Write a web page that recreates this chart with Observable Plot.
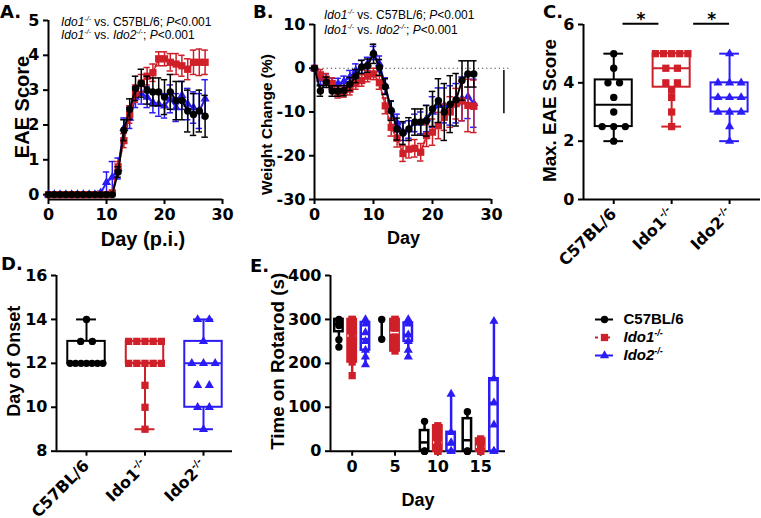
<!DOCTYPE html>
<html><head><meta charset="utf-8">
<script src="https://cdn.jsdelivr.net/npm/d3@7"></script>
<script src="https://cdn.jsdelivr.net/npm/@observablehq/plot@0.6"></script>
<style>
html,body{margin:0;padding:0;background:#fff;}
#fig{position:relative;width:761px;height:518px;overflow:hidden;background:#fff;}
.pl{position:absolute;}
.tag{position:absolute;font-family:"DejaVu Sans",sans-serif;font-weight:bold;font-size:18px;line-height:18px;}
.ann{position:absolute;font-family:"Liberation Sans",Arial,sans-serif;font-size:12px;line-height:13px;white-space:nowrap;}
.ann sup{font-size:7px;vertical-align:5px;line-height:0;}
</style></head>
<body><div id="fig"></div>
<script>
// ---------------- DATA ----------------
const GROUPS = ["C57BL/6", "Ido1-/-", "Ido2-/-"];
const days = [0,1,2,3,4,5,6,7,8,9,10,11,12,13,14,15,16,17,18,19,20,21,22,23,24,25,26,27];

// A. EAE score (mean, SEM)
const eaeB6      = [0,0,0,0,0,0,0,0,0,0,0,0,0.65,1.85,2.45,3.05,3.2,3.0,2.95,2.95,2.8,2.95,2.7,2.7,2.4,2.3,2.4,2.25];
const eaeB6Sem   = [0,0,0,0,0,0,0,0,0,0,0,0,0.15,0.3,0.3,0.35,0.4,0.4,0.4,0.4,0.5,0.5,0.55,0.55,0.6,0.6,0.6,0.6];
const eaeIdo1    = [0,0,0,0,0,0,0,0,0,0,0,0.05,0.8,1.55,2.3,2.9,3.2,3.4,3.5,3.9,3.9,3.8,3.75,3.7,3.6,3.8,3.8,3.8];
const eaeIdo1Sem = [0,0,0,0,0,0,0,0,0,0,0,0.05,0.15,0.2,0.25,0.25,0.25,0.25,0.25,0.2,0.2,0.25,0.3,0.3,0.3,0.35,0.38,0.35];
const eaeIdo2    = [0,0,0,0,0,0,0,0,0,0.05,0.35,0.5,0.75,1.9,2.2,2.8,2.9,2.8,2.65,2.6,2.55,2.75,2.5,2.85,2.6,2.5,2.4,2.75];
const eaeIdo2Sem = [0,0,0,0,0,0,0,0,0,0.05,0.3,0.45,0.3,0.3,0.3,0.3,0.3,0.3,0.3,0.35,0.35,0.4,0.4,0.4,0.45,0.45,0.5,0.55];

// B. Weight change (mean, SEM)
const wB6      = [0,-5.2,-3.2,-5.2,-5.2,-5.1,-3.6,-1.8,0.3,0.6,3.3,0.2,-4.2,-9.7,-13.9,-14.8,-13.9,-12.3,-12.3,-12,-9.3,-7.4,-10,-8.2,-7.2,-2.8,-1.3,-1.3];
const wB6Sem   = [0,1.2,1.2,1.2,1.2,1.2,1.5,1.5,1.5,1.5,2.2,1.8,1.8,2.2,2.5,2.6,2.6,3,3,3.5,4,5,6.5,6.5,6,4.5,3,3];
const wIdo1    = [0,-1.5,-2.5,-3.5,-5.5,-5.3,-4.8,-3.5,-2.8,-1.8,-1.3,-3.3,-8.6,-13.5,-16,-19.5,-18.5,-18.3,-19.2,-15.4,-14.6,-13.1,-11.2,-10,-8.1,-7.5,-8.5,-8.7];
const wIdo1Sem = [0,1.2,1.3,1.3,1.3,1.3,1.3,1.3,1.3,1.3,1.3,1.5,1.8,2,2,1.8,2,2,2,2.5,3,3,3,3.5,3.5,4.5,6,6];
const wIdo2    = [0,-2.5,-2.5,-3.5,-3.5,-3,-2,-0.5,0.3,1,3.5,1,-4,-9.5,-12.5,-14.5,-14,-12.5,-12.5,-11.5,-10,-8.5,-8.5,-8.5,-8,-7,-6.5,-8];
const wIdo2Sem = [0,1.2,1.2,1.2,1.2,1.2,1.5,1.5,1.5,1.5,1.5,1.8,1.8,2,2,2,2,2,2.5,3,3.5,4,4,4.5,4.5,5,5,5.5];

// C. Max EAE score
const cB6   = [5,4.5,4,4,3.5,3,2.5,2.5,2.5,2];
const cIdo1 = [5,5,5,5,5,4.5,4.5,4,4,3.75,3.5,3,2.5];
const cIdo2 = [5,4,4,4,3.5,3.5,3.5,3,3,3,2.5,2];
const cMin = [2,2.5,2], cQ1 = [2.5,3.85,3], cMed = [3.25,4.5,3.5], cQ3 = [4.1,5,4], cMax = [5,5,5];
const sigX1 = [0.16,1.38], sigX2 = [0.78,2.0], sigY = 6.03, sigText = ["*","*"];

// D. Day of onset
const dB6   = [14,13,13,12,12,12,12,12,12,12];
const dIdo1 = [13,13,13,13,13,12,12,12,12,12,11,10,9];
const dIdo2 = [14,14,13,12,12,12,11,11,10,10,9];
const dMin = [12,9,9], dQ1 = [12,12,10], dMed = [12,12,12], dQ3 = [13,13,13], dMax = [14,13,14];

// E. Rotarod
const rotDays = [0,5,10,15];
const rB6Min = [237,255,0,0], rB6Q1 = [272,null,0,0], rB6Med = [290,null,20,25], rB6Q3 = [300,null,47,74], rB6Max = [300,300,68,90];
const rIdo1Min = [172,228,0,0], rIdo1Q1 = [203,228,0,0], rIdo1Med = [263,270,20,10], rIdo1Q3 = [300,300,58,28], rIdo1Max = [300,300,58,28];
const rIdo2Min = [197,215,0,0], rIdo2Q1 = [230,250,0,0], rIdo2Med = [255,265,15,110], rIdo2Q3 = [293,292,43,165], rIdo2Max = [300,300,130,296];
const rB6Pts   = [[300,297,286,254,237],[300,255],[68,0,0,0],[90,0,0,0]];
const rIdo1Pts = [[300,300,290,260,230,203,172],[300,300,280,260,240,228],[58,40,20,0,0],[28,10,0,0]];
const rIdo2Pts = [[300,290,270,250,230,215,197],[300,290,265,250,230,215],[130,43,20,0,0],[296,165,110,60,0,0]];

// ticks
const dayTicks = [0,10,20,30], eaeTicks = [0,1,2,3,4,5], wTicks = [-30,-20,-10,0,10];
const maxTicks = [0,2,4,6], onsetTicks = [8,10,12,14,16], rotTicks = [0,100,200,300,400];

// ---------------- STYLE ----------------
const COLORS = ["#000000", "#cf1f28", "#2b1cf5"];
const SYMBOLS = ["circle", "square", "triangle"];
const RADII = [3.7, 4.1, 3.4];
const STYLE = "font-family:'DejaVu Sans',sans-serif;font-weight:bold;font-size:16px;color:#000;background:transparent;overflow:visible;max-width:none;";
const num = d => String(d);

const fig = document.getElementById("fig");
function place(node, left, top, w) {
  const d = document.createElement("div");
  d.className = "pl"; d.style.left = left + "px"; d.style.top = top + "px"; d.style.width = w + "px";
  d.appendChild(node); fig.appendChild(d); return node;
}
function yTitle(t, dx, dy, fs) {
  return Plot.text([t], {text: d => d, frameAnchor: "left", rotate: -90, dx, dy, textAnchor: "middle", lineAnchor: "middle",
    fontSize: fs, fontFamily: "Liberation Sans, Arial, sans-serif", fontWeight: "bold"});
}
function xTitle(t, dx, dy, fs) {
  return Plot.text([t], {text: d => d, frameAnchor: "bottom", dx, dy, textAnchor: "middle", lineAnchor: "middle",
    fontSize: fs, fontFamily: "Liberation Sans, Arial, sans-serif", fontWeight: "bold"});
}
const rowsOf = (vals, sems) => days.map((d, i) => ({day: d, v: vals[i], lo: vals[i] - sems[i], hi: vals[i] + sems[i]}));
function seriesMarks(rows, k, dash, cap) {
  const c = COLORS[k], err = rows.filter(d => d.hi > d.lo);
  return [
    Plot.ruleX(err, {x: "day", y1: "lo", y2: "hi", stroke: c, strokeWidth: 1.5}),
    Plot.ruleY(err, {y: "hi", x1: d => d.day - cap, x2: d => d.day + cap, stroke: c, strokeWidth: 1.5}),
    Plot.ruleY(err, {y: "lo", x1: d => d.day - cap, x2: d => d.day + cap, stroke: c, strokeWidth: 1.5}),
    Plot.line(rows, {x: "day", y: "v", stroke: c, strokeWidth: 2, strokeDasharray: dash}),
    Plot.dot(rows, {x: "day", y: "v", symbol: SYMBOLS[k], r: RADII[k], fill: c, stroke: "none"})
  ];
}
// spread equal values side by side (scatter-dot layout)
function spread(values, i, step, maxW) {
  const counts = d3.rollup(values, v => v.length, v => v), seen = new Map();
  return values.map(v => {
    const n = counts.get(v), k = seen.get(v) ?? 0; seen.set(v, k + 1);
    const s = n > 1 ? Math.min(step, maxW / (n - 1)) : 0;
    return {x: i + (k - (n - 1) / 2) * s, y: v};
  });
}
function boxMarks(rows, half, cap, sw) {
  return [
    Plot.ruleX(rows, {x: "x", y1: "min", y2: d => d.q1 ?? d.max, stroke: "color", strokeWidth: sw}),
    Plot.ruleX(rows.filter(d => d.q3 != null), {x: "x", y1: "q3", y2: "max", stroke: "color", strokeWidth: sw}),
    ...(cap ? [
      Plot.ruleY(rows, {y: "min", x1: d => d.x - cap, x2: d => d.x + cap, stroke: "color", strokeWidth: sw}),
      Plot.ruleY(rows, {y: "max", x1: d => d.x - cap, x2: d => d.x + cap, stroke: "color", strokeWidth: sw})] : []),
    Plot.rect(rows.filter(d => d.q1 != null), {x1: d => d.x - half, x2: d => d.x + half, y1: "q1", y2: "q3", stroke: "color", fill: "fill", strokeWidth: sw}),
    Plot.ruleY(rows.filter(d => d.med != null), {y: "med", x1: d => d.x - half, x2: d => d.x + half, stroke: "medColor", strokeWidth: sw})
  ];
}
function supify(root, italic) {
  const ns = "http://www.w3.org/2000/svg";
  root.querySelectorAll("text, tspan").forEach(el => {
    if (el.childNodes.length !== 1 || el.firstChild.nodeType !== 3) return;
    const m = el.textContent.match(/^(Ido[12])-\/-$/);
    if (!m) return;
    el.textContent = "";
    const a = document.createElementNS(ns, "tspan"); a.textContent = m[1];
    const b = document.createElementNS(ns, "tspan"); b.textContent = "-/-";
    b.setAttribute("font-size", "0.6em"); b.setAttribute("dy", "-0.7em");
    if (italic) { a.setAttribute("font-style", "italic"); b.setAttribute("font-style", "italic"); }
    el.append(a, b);
  });
}

// ---------------- PANEL A ----------------
place(Plot.plot({
  width: 250, height: 240, marginTop: 20, marginBottom: 41, marginLeft: 48, marginRight: 28,
  style: STYLE, x: {domain: [0, 30]}, y: {domain: [-0.14, 5]},
  marks: [
    Plot.ruleX([0], {strokeWidth: 2}), Plot.ruleY([-0.14], {strokeWidth: 2}),
    Plot.axisX({ticks: dayTicks, tickFormat: num, tickSize: 5, strokeWidth: 2, label: null}),
    Plot.axisY({ticks: eaeTicks, tickFormat: num, tickSize: 5, strokeWidth: 2, label: null}),
    ...seriesMarks(rowsOf(eaeIdo2, eaeIdo2Sem), 2, null, 0.55),
    ...seriesMarks(rowsOf(eaeIdo1, eaeIdo1Sem), 1, "3,2", 0.55),
    ...seriesMarks(rowsOf(eaeB6, eaeB6Sem), 0, null, 0.55),
    yTitle("EAE Score", -25.5, -3, 20),
    xTitle("Day (p.i.)", 7.5, 40, 20)
  ]
}), 0, 0, 250);

// ---------------- PANEL B ----------------
place(Plot.plot({
  width: 261, height: 240, marginTop: 24, marginBottom: 41, marginLeft: 64, marginRight: 20,
  style: STYLE, x: {domain: [0, 30]}, y: {domain: [-30, 10]},
  marks: [
    Plot.ruleX([0], {strokeWidth: 2}), Plot.ruleY([-30], {strokeWidth: 2}),
    Plot.ruleY([0], {x1: 0, x2: 33, stroke: "#444", strokeWidth: 1.2, strokeDasharray: "1.2,3"}),
    Plot.ruleX([32.1], {y1: -0.5, y2: -10.4, stroke: "#000", strokeWidth: 1.5}),
    Plot.axisX({ticks: dayTicks, tickFormat: num, tickSize: 5, strokeWidth: 2, label: null}),
    Plot.axisY({ticks: wTicks, tickFormat: num, tickSize: 5, strokeWidth: 2, label: null}),
    ...seriesMarks(rowsOf(wIdo2, wIdo2Sem), 2, null, 0.55),
    ...seriesMarks(rowsOf(wIdo1, wIdo1Sem), 1, "3,2", 0.55),
    ...seriesMarks(rowsOf(wB6, wB6Sem), 0, null, 0.55),
    yTitle("Weight Change (%)", -47.5, 12.5, 15.5),
    xTitle("Day", 0.6, 39, 18)
  ]
}), 250, 0, 261);

// ---------------- PANEL C ----------------
const boxRows = (mn, q1, md, q3, mx) => GROUPS.map((g, i) => ({x: i, min: mn[i], q1: q1[i], med: md[i], q3: q3[i], max: mx[i], color: COLORS[i], medColor: COLORS[i], fill: "white"}));
const groupTick = i => GROUPS[i];
place(Plot.plot({
  width: 251, height: 240, marginTop: 24, marginBottom: 41, marginLeft: 73, marginRight: 1,
  style: STYLE, color: {type: "identity"}, x: {domain: [-0.522, 2.534]}, y: {domain: [0, 6]},
  marks: [
    Plot.ruleX([-0.522], {strokeWidth: 2}), Plot.ruleY([0], {strokeWidth: 2}),
    Plot.axisX({ticks: [0, 1, 2], tickFormat: groupTick, tickRotate: -45, tickSize: 5, strokeWidth: 2, label: null, fontSize: 16}),
    Plot.axisY({ticks: maxTicks, tickFormat: num, tickSize: 5, strokeWidth: 2, label: null}),
    ...boxMarks(boxRows(cMin, cQ1, cMed, cQ3, cMax), 0.32, 0.17, 2),
    ...[cB6, cIdo1, cIdo2].map((vals, i) => Plot.dot(spread(vals, i, 0.2, 0.56), {x: "x", y: "y", symbol: SYMBOLS[i], r: RADII[i], fill: COLORS[i], stroke: "none"})),
    Plot.ruleY(sigText.map((t, i) => ({x1: sigX1[i], x2: sigX2[i]})), {y: sigY, x1: "x1", x2: "x2", strokeWidth: 2}),
    Plot.text(sigText.map((t, i) => ({t, x: (sigX1[i] + sigX2[i]) / 2})), {x: "x", y: sigY, text: "t", lineAnchor: "bottom", dy: 1, fontSize: 17}),
    yTitle("Max. EAE Score", -34, -1.5, 18.8)
  ]
}), 510, 0, 251);

// ---------------- PANEL D ----------------
place(Plot.plot({
  width: 250, height: 278, marginTop: 35, marginBottom: 67.3, marginLeft: 56, marginRight: 18,
  style: STYLE, color: {type: "identity"}, x: {domain: [-0.513, 2.496]}, y: {domain: [8, 16]},
  marks: [
    Plot.ruleX([-0.513], {strokeWidth: 2}), Plot.ruleY([8], {strokeWidth: 2}),
    Plot.axisX({ticks: [0, 1, 2], tickFormat: groupTick, tickRotate: -45, tickSize: 5, strokeWidth: 2, label: null, fontSize: 16}),
    Plot.axisY({ticks: onsetTicks, tickFormat: num, tickSize: 5, strokeWidth: 2, label: null}),
    ...boxMarks(boxRows(dMin, dQ1, dMed, dQ3, dMax), 0.32, 0.17, 2),
    ...[dB6, dIdo1, dIdo2].map((vals, i) => Plot.dot(spread(vals, i, 0.2, 0.56), {x: "x", y: "y", symbol: SYMBOLS[i], r: RADII[i], fill: COLORS[i], stroke: "none"})),
    yTitle("Day of Onset", -42, -2, 18)
  ]
}), 0, 240, 250);

// ---------------- PANEL E ----------------
const dodge = 1.55;
const eSets = [
  {mn: rB6Min, q1: rB6Q1, md: rB6Med, q3: rB6Q3, mx: rB6Max, pts: rB6Pts, fill: "white", med: COLORS[0]},
  {mn: rIdo1Min, q1: rIdo1Q1, md: rIdo1Med, q3: rIdo1Q3, mx: rIdo1Max, pts: rIdo1Pts, fill: COLORS[1], med: "white"},
  {mn: rIdo2Min, q1: rIdo2Q1, md: rIdo2Med, q3: rIdo2Q3, mx: rIdo2Max, pts: rIdo2Pts, fill: "white", med: COLORS[2]}
];
const eRows = eSets.flatMap((s, k) => rotDays.map((day, j) => ({x: day + (k - 1) * dodge, min: s.mn[j], q1: s.q1[j], med: s.md[j], q3: s.q3[j], max: s.mx[j], color: COLORS[k], fill: s.fill, medColor: s.med})));
place(Plot.plot({
  width: 261, height: 278, marginTop: 35, marginBottom: 67.3, marginLeft: 80, marginRight: 6,
  style: STYLE, color: {type: "identity"}, x: {domain: [-2.53, 17.9]}, y: {domain: [0, 400]},
  marks: [
    Plot.ruleX([-2.53], {strokeWidth: 2}), Plot.ruleY([0], {strokeWidth: 2}),
    Plot.axisX({ticks: rotDays, tickFormat: num, tickSize: 5, strokeWidth: 2, label: null}),
    Plot.axisY({ticks: rotTicks, tickFormat: num, tickSize: 5, strokeWidth: 2, label: null}),
    ...boxMarks(eRows, 0.49, 0, 2.5),
    ...eSets.map((s, k) => Plot.dot(s.pts.flatMap((arr, j) => arr.map(v => ({x: rotDays[j] + (k - 1) * dodge, y: v}))),
      {x: "x", y: "y", symbol: SYMBOLS[k], r: RADII[k], fill: COLORS[k], stroke: "none"})),
    yTitle("Time on Rotarod (s)", -52.5, -2, 18.8),
    xTitle("Day", 0, 49, 18)
  ]
}), 250, 240, 261);

// ---------------- LEGEND ----------------
place(Plot.plot({
  width: 176, height: 90, margin: 0, style: STYLE,
  x: {type: "identity", axis: null}, y: {type: "point", domain: GROUPS, range: [14, 69], axis: null},
  marks: [
    ...GROUPS.map((g, k) => Plot.ruleY([g], {y: d => d, x1: 10, x2: 28, stroke: COLORS[k], strokeWidth: 2, strokeDasharray: k === 1 ? "3,3" : null})),
    ...GROUPS.map((g, k) => Plot.dot([g], {y: d => d, x: 19, symbol: SYMBOLS[k], r: RADII[k], fill: COLORS[k], stroke: "none"})),
    Plot.text(GROUPS, {y: d => d, x: 38, text: d => d, textAnchor: "start", fontSize: 15, fontFamily: "Liberation Sans, Arial, sans-serif", fontWeight: "bold"})
  ]
}), 585, 295, 176);

// post-process: superscripts (legend labels italic)
const svgs = fig.querySelectorAll("svg");
svgs.forEach((svg, i) => supify(svg, i === svgs.length - 1));

// ---------------- PANEL TAGS & ANNOTATIONS ----------------
const tags = [["A.", 0, 3], ["B.", 253, 3], ["C.", 543, 3], ["D.", 1, 255], ["E.", 250, 257]];
tags.forEach(([t, l, tp]) => { const d = document.createElement("div"); d.className = "tag"; d.style.left = l + "px"; d.style.top = tp + "px"; d.textContent = t; fig.appendChild(d); });
const annLine1 = '<i>Ido1</i><sup><i>-/-</i></sup> vs. C57BL/6; <i>P</i>&lt;0.001';
const annLine2 = '<i>Ido1</i><sup><i>-/-</i></sup> vs. <i>Ido2</i><sup><i>-/-</i></sup>; <i>P</i>&lt;0.001';
[[annLine1, 61, 15.5], [annLine2, 61, 28.5], [annLine1, 324, 8.5], [annLine2, 324, 23.5]].forEach(([h, l, tp]) => {
  const d = document.createElement("div"); d.className = "ann"; d.style.left = l + "px"; d.style.top = tp + "px"; d.innerHTML = h; fig.appendChild(d);
});
</script></body></html>
